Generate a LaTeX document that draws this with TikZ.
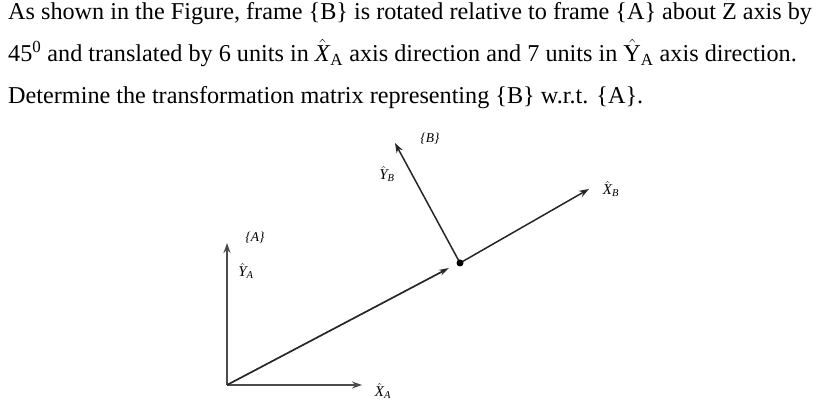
\documentclass[tikz,border=0pt]{standalone}
\usepackage{amsmath}
\usepackage{fontspec}
\setmainfont{Liberation Serif}
\usetikzlibrary{arrows.meta}
\newcommand{\hatup}[1]{$\hat{\mbox{#1}}$}

\begin{document}
\begin{tikzpicture}[x=1pt, y=-1pt,
  question/.style={anchor=base west, inner sep=0pt, font=\fontsize{24.2}{28}\selectfont},
  lbl/.style={inner sep=0pt, font=\fontsize{13.5}{15}\selectfont\itshape},
  hatlbl/.style={inner sep=0pt, font=\fontsize{15}{17}\selectfont\itshape},
  axisA/.style={draw=black!70, line width=2pt, -{Stealth[length=10pt, width=7pt]}},
  axisB/.style={draw=black!85, line width=1.5pt, -{Stealth[open, length=10pt, width=7pt]}}]
\useasboundingbox (0,0) rectangle (823,411);
% the question
\node[question] (q1) at (8,20) {As shown in the Figure, frame \{B\} is rotated relative to frame \{A\} about \hatup{Z} axis by};
\node[question] (q2) at (8,62) {45\textsuperscript{0} and translated by 6 units in \hatup{\textit{X}}\textsubscript{A} axis direction and 7 units in \hatup{Y}\textsubscript{A} axis direction.};
\node[question] (q3) at (8,104) {Determine the transformation matrix representing \{B\} w.r.t. \{A\}.};
% frame A
\coordinate (OA) at (227,385);
\coordinate (XA) at (362,385);
\coordinate (YA) at (227,243);
\draw[axisA] (OA) -- (XA);
\draw[axisA] (OA) -- (YA);
% frame B
\coordinate (OB) at (460,263);
\coordinate (XB) at (589,189);
\coordinate (YB) at (395,143);
\coordinate (PA) at (449,268);
\draw[black!85, line width=1.7pt, -{Stealth[length=10pt, width=6pt]}] (OA) -- (PA);
\draw[axisB] (OB) -- (XB);
\draw[axisB] (OB) -- (YB);
\fill (OB) circle (3.5pt);
% labels
\node[lbl] (nA) at (255,238) {\{A\}};
\node[hatlbl] (nYA) at (246,271) {$\hat{\mbox{\textit{Y}}}$\textsubscript{\textit{A}}};
\node[hatlbl] (nXA) at (383,391) {$\hat{\mbox{\textit{X}}}$\textsubscript{\textit{A}}};
\node[lbl] (nB) at (430,139) {\{B\}};
\node[hatlbl] (nYB) at (387,174) {$\hat{\mbox{\textit{Y}}}$\textsubscript{\textit{B}}};
\node[hatlbl] (nXB) at (611,189) {$\hat{\mbox{\textit{X}}}$\textsubscript{\textit{B}}};
\end{tikzpicture}
\end{document}
